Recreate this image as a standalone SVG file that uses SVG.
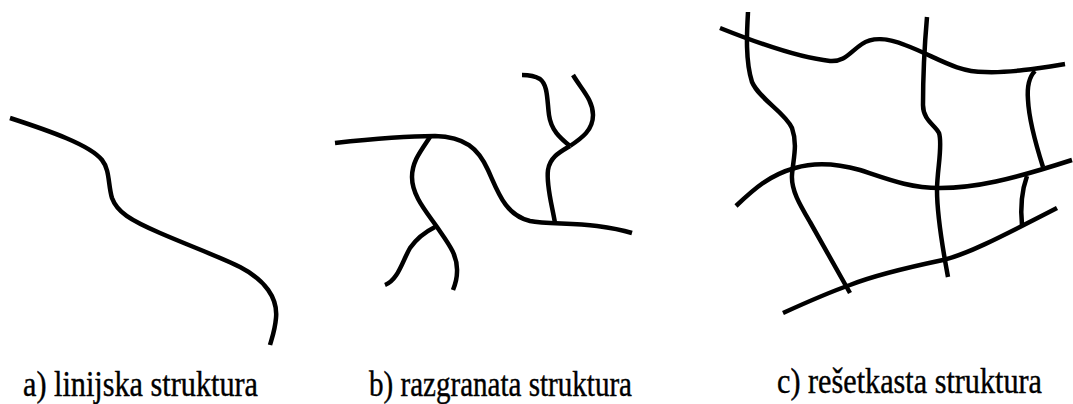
<svg xmlns="http://www.w3.org/2000/svg" width="1073" height="404" viewBox="0 0 1073 404">
<style>
.ln{fill:none;stroke:#000;stroke-width:4.5;stroke-linecap:butt;stroke-linejoin:round}
.lb{font-family:"Liberation Serif","DejaVu Serif",serif;font-size:35px;fill:#000;stroke:#000;stroke-width:0.4}
</style>
<rect width="1073" height="404" fill="#fff"/>
<g id="panel-a">
<path class="ln" d="M10,118 C50,131 90,145 102,160 C110,170 108,185 112,198 C117,212 130,220 160,233 C190,246 220,257 240,267 C265,280 278,298 276,318 C275,330 272,338 270,345"/>
<text class="lb" x="23" y="396" textLength="235" lengthAdjust="spacingAndGlyphs">a) linijska struktura</text>
</g>
<g id="panel-b">
<path class="ln" d="M335,143 C380,138 410,136 435,136 C465,137 478,148 488,170 C498,192 505,215 530,221 C545,224 570,223 597,226 C612,228 622,230 632,233"/>
<path class="ln" d="M430,137 C420,152 412,162 412,177 C412,195 425,210 437,227 C448,243 458,255 457,272 C457,280 455,285 453,290"/>
<path class="ln" d="M435,227 C425,232 417,238 410,248 C402,262 398,280 385,285"/>
<path class="ln" d="M555,223 C552,205 546,185 548,170 C550,157 560,152 570,146"/>
<path class="ln" d="M570,146 C560,138 551,130 549,115 C547,100 548,85 540,79 C535,76 528,75 522,75"/>
<path class="ln" d="M570,146 C582,138 593,130 593,115 C593,100 582,90 573,75"/>
<text class="lb" x="369" y="396" textLength="263" lengthAdjust="spacingAndGlyphs">b) razgranata struktura</text>
</g>
<g id="panel-c">
<path class="ln" d="M720,28 C760,44 800,58 830,61 C845,62 850,52 862,44 C872,37 888,38 905,45 C935,56 955,72 985,72 C1010,73 1040,68 1065,64"/>
<path class="ln" d="M748,12 C747,30 745,60 752,82 C760,100 785,112 792,128 C798,145 793,160 792,175 C791,190 800,205 810,222 L850,293"/>
<path class="ln" d="M927,17 C925,40 923,80 923,105 C923,120 935,125 939,133 C943,145 937,170 937,190 C937,215 942,245 948,277"/>
<path class="ln" d="M1035,71 C1028,78 1027,88 1028,100 C1029,120 1036,145 1043,167"/>
<path class="ln" d="M736,206 C755,188 770,175 795,168 C815,162 835,163 860,170 C890,180 910,188 940,188 C975,188 1010,180 1072,160"/>
<path class="ln" d="M1027,176 C1022,190 1020,205 1022,225"/>
<path class="ln" d="M783,313 C805,303 830,292 850,285 C875,275 905,268 943,260 C965,255 995,240 1057,208"/>
<text class="lb" transform="translate(777,393) scale(0.863,1)" x="0" y="0">c) rešetkasta struktura</text>
</g>
</svg>
